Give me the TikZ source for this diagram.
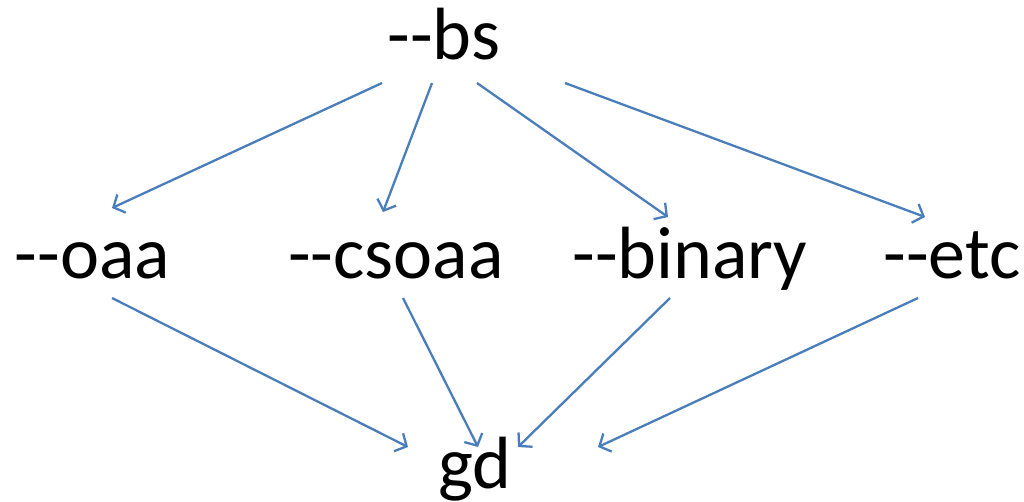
\documentclass[tikz,border=0pt]{standalone}
\usepackage{fontspec}
\setmainfont{Carlito}[Ligatures=TeXOff]
\usetikzlibrary{arrows.meta}
\definecolor{linkblue}{HTML}{4A7EBB}
\begin{document}
\begin{tikzpicture}[x=1pt,y=-1pt,
  lbl/.style={anchor=base,inner sep=0pt,font=\fontsize{74}{80}\selectfont},
  link/.style={draw=linkblue,line width=2.3pt,-{Straight Barb[length=9pt,width=20pt,line width=2.3pt]}}]
\useasboundingbox (0,0) rectangle (1024,501);
\node[lbl] (bs) at (444,59) {--bs};
\node[lbl] (oaa) at (92.5,278) {--oaa};
\node[lbl] (csoaa) at (396,278) {--csoaa};
\node[lbl] (binary) at (690,278) {--binary};
\node[lbl] (etc) at (952,278) {--etc};
\node[lbl] (gd) at (475,488) {gd};
\draw[link] ([shift={(-62,24)}]bs.base) -- ([shift={(19.5,-70)}]oaa.base);
\draw[link] ([shift={(-12,24)}]bs.base) -- ([shift={(-13,-66)}]csoaa.base);
\draw[link] ([shift={(33,24)}]bs.base) -- ([shift={(-22,-61)}]binary.base);
\draw[link] ([shift={(121,24)}]bs.base) -- ([shift={(-27,-61)}]etc.base);
\draw[link] ([shift={(19.5,20)}]oaa.base) -- ([shift={(-67,-41)}]gd.base);
\draw[link] ([shift={(7,20)}]csoaa.base) -- ([shift={(3,-41)}]gd.base);
\draw[link] ([shift={(-20,20)}]binary.base) -- ([shift={(43,-41)}]gd.base);
\draw[link] ([shift={(-34,20)}]etc.base) -- ([shift={(123,-41)}]gd.base);
\end{tikzpicture}
\end{document}
